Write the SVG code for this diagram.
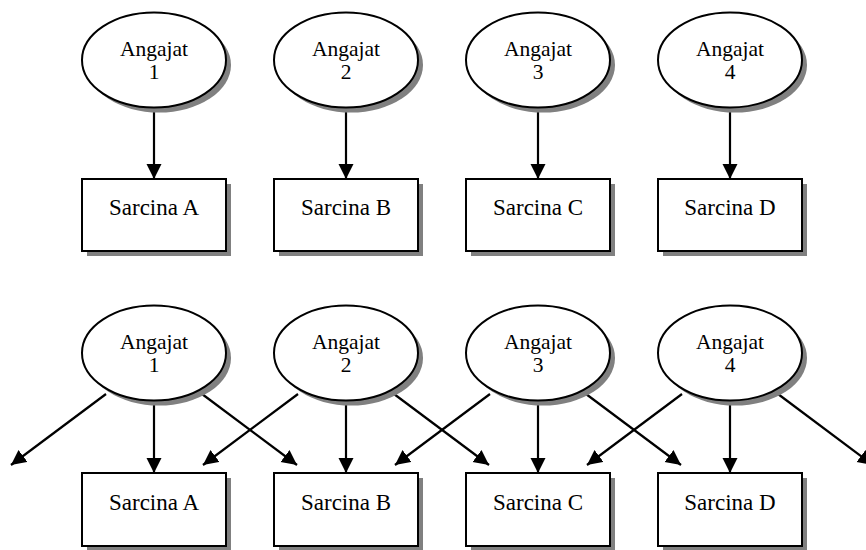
<svg xmlns="http://www.w3.org/2000/svg" width="866" height="550" viewBox="0 0 866 550">
<style>
.sh{fill:#808080;stroke:none}
.nd{fill:#fff;stroke:#000;stroke-width:2}
.t1{font-family:'Liberation Serif','DejaVu Serif',serif;font-size:21.5px;text-anchor:middle;fill:#000}
.t2{font-family:'Liberation Serif','DejaVu Serif',serif;font-size:23px;text-anchor:middle;fill:#000}
.ar{stroke:#000;stroke-width:2.2;fill:none;marker-end:url(#ah)}
</style>
<defs>
<marker id="ah" markerUnits="userSpaceOnUse" markerWidth="16" markerHeight="16" viewBox="0 0 16 16" refX="15" refY="7.5" orient="auto">
<path d="M0,0 L15,7.5 L0,15 z" fill="#000"/>
</marker>
</defs>
<rect width="866" height="550" fill="#fff"/>
<g id="connectors">
<line class="ar" x1="154" y1="108" x2="154" y2="179"/>
<line class="ar" x1="346" y1="108" x2="346" y2="179"/>
<line class="ar" x1="538" y1="108" x2="538" y2="179"/>
<line class="ar" x1="730" y1="108" x2="730" y2="179"/>
<line class="ar" x1="154" y1="401" x2="154" y2="473"/>
<line class="ar" x1="346" y1="401" x2="346" y2="473"/>
<line class="ar" x1="538" y1="401" x2="538" y2="473"/>
<line class="ar" x1="730" y1="401" x2="730" y2="473"/>
<line class="ar" x1="106" y1="394" x2="11" y2="465"/>
<line class="ar" x1="202" y1="394" x2="297" y2="465"/>
<line class="ar" x1="298" y1="394" x2="203" y2="465"/>
<line class="ar" x1="394" y1="394" x2="489" y2="465"/>
<line class="ar" x1="490" y1="394" x2="395" y2="465"/>
<line class="ar" x1="586" y1="394" x2="681" y2="465"/>
<line class="ar" x1="682" y1="394" x2="587" y2="465"/>
<line class="ar" x1="778" y1="394" x2="873" y2="465"/>
</g>
<g id="e1top"><ellipse class="sh" cx="159" cy="65" rx="72" ry="47.5"/><ellipse class="nd" cx="154" cy="60" rx="72" ry="47.5"/><text class="t1" x="154" y="56">Angajat</text><text class="t1" x="154" y="79">1</text></g>
<g id="e2top"><ellipse class="sh" cx="351" cy="65" rx="72" ry="47.5"/><ellipse class="nd" cx="346" cy="60" rx="72" ry="47.5"/><text class="t1" x="346" y="56">Angajat</text><text class="t1" x="346" y="79">2</text></g>
<g id="e3top"><ellipse class="sh" cx="543" cy="65" rx="72" ry="47.5"/><ellipse class="nd" cx="538" cy="60" rx="72" ry="47.5"/><text class="t1" x="538" y="56">Angajat</text><text class="t1" x="538" y="79">3</text></g>
<g id="e4top"><ellipse class="sh" cx="735" cy="65" rx="72" ry="47.5"/><ellipse class="nd" cx="730" cy="60" rx="72" ry="47.5"/><text class="t1" x="730" y="56">Angajat</text><text class="t1" x="730" y="79">4</text></g>
<g id="bAtop"><rect class="sh" x="87" y="184" width="144" height="72"/><rect class="nd" x="82" y="179" width="144" height="72"/><text class="t2" x="154" y="215">Sarcina A</text></g>
<g id="bBtop"><rect class="sh" x="279" y="184" width="144" height="72"/><rect class="nd" x="274" y="179" width="144" height="72"/><text class="t2" x="346" y="215">Sarcina B</text></g>
<g id="bCtop"><rect class="sh" x="471" y="184" width="144" height="72"/><rect class="nd" x="466" y="179" width="144" height="72"/><text class="t2" x="538" y="215">Sarcina C</text></g>
<g id="bDtop"><rect class="sh" x="663" y="184" width="144" height="72"/><rect class="nd" x="658" y="179" width="144" height="72"/><text class="t2" x="730" y="215">Sarcina D</text></g>
<g id="e1bot"><ellipse class="sh" cx="159" cy="358" rx="72" ry="47.5"/><ellipse class="nd" cx="154" cy="353" rx="72" ry="47.5"/><text class="t1" x="154" y="349">Angajat</text><text class="t1" x="154" y="372">1</text></g>
<g id="e2bot"><ellipse class="sh" cx="351" cy="358" rx="72" ry="47.5"/><ellipse class="nd" cx="346" cy="353" rx="72" ry="47.5"/><text class="t1" x="346" y="349">Angajat</text><text class="t1" x="346" y="372">2</text></g>
<g id="e3bot"><ellipse class="sh" cx="543" cy="358" rx="72" ry="47.5"/><ellipse class="nd" cx="538" cy="353" rx="72" ry="47.5"/><text class="t1" x="538" y="349">Angajat</text><text class="t1" x="538" y="372">3</text></g>
<g id="e4bot"><ellipse class="sh" cx="735" cy="358" rx="72" ry="47.5"/><ellipse class="nd" cx="730" cy="353" rx="72" ry="47.5"/><text class="t1" x="730" y="349">Angajat</text><text class="t1" x="730" y="372">4</text></g>
<g id="bAbot"><rect class="sh" x="87" y="478" width="144" height="73"/><rect class="nd" x="82" y="473" width="144" height="73"/><text class="t2" x="154" y="510">Sarcina A</text></g>
<g id="bBbot"><rect class="sh" x="279" y="478" width="144" height="73"/><rect class="nd" x="274" y="473" width="144" height="73"/><text class="t2" x="346" y="510">Sarcina B</text></g>
<g id="bCbot"><rect class="sh" x="471" y="478" width="144" height="73"/><rect class="nd" x="466" y="473" width="144" height="73"/><text class="t2" x="538" y="510">Sarcina C</text></g>
<g id="bDbot"><rect class="sh" x="663" y="478" width="144" height="73"/><rect class="nd" x="658" y="473" width="144" height="73"/><text class="t2" x="730" y="510">Sarcina D</text></g>
</svg>
